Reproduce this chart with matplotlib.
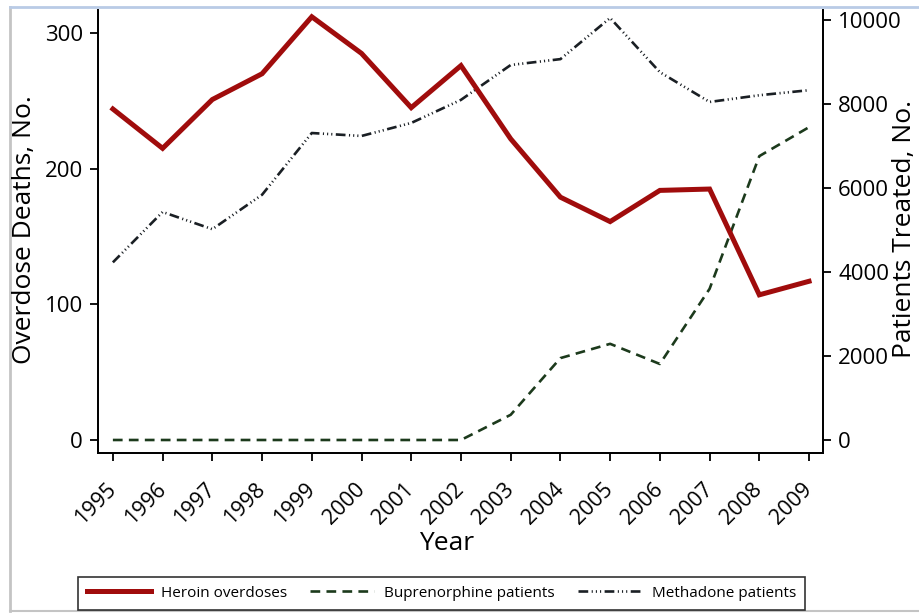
import matplotlib
matplotlib.use("Agg")
import matplotlib.pyplot as plt
from matplotlib.lines import Line2D

plt.rcParams["font.family"] = ["Open Sans", "DejaVu Sans"]
plt.rcParams["lines.scale_dashes"] = False

years = [1995, 1996, 1997, 1998, 1999, 2000, 2001, 2002,
         2003, 2004, 2005, 2006, 2007, 2008, 2009]
heroin_overdoses = [244, 215, 251, 270, 312, 285, 245, 276,
                    222, 179, 161, 184, 185, 107, 117]
buprenorphine_patients = [0, 0, 0, 0, 0, 0, 0, 0,
                          600, 1950, 2290, 1810, 3600, 6760, 7450]
methadone_patients = [4230, 5430, 5020, 5840, 7310, 7240, 7550, 8100,
                      8930, 9070, 10050, 8760, 8050, 8210, 8330]

fig = plt.figure(figsize=(9.19, 6.13), dpi=100)
ax = fig.add_axes([0.1066, 0.261, 0.7889, 0.7227])
ax2 = ax.twinx()

heroin_color = "#a00c0c"
bup_color = "#1c3a1c"
meth_color = "#1a1f24"

h1, = ax.plot(years, heroin_overdoses, color=heroin_color, lw=3.6,
              solid_joinstyle="miter", zorder=3, label="Heroin overdoses")
h2, = ax2.plot(years, buprenorphine_patients, color=bup_color, lw=1.9,
               linestyle=(0, (7, 4.5)), label="Buprenorphine patients")
h3, = ax2.plot(years, methadone_patients, color=meth_color, lw=1.9,
               linestyle=(0, (7, 2.5, 0.8, 2.2, 0.8, 2.2, 0.8, 2.5)),
               label="Methadone patients")
ax.set_zorder(ax2.get_zorder() + 1)
ax.patch.set_visible(False)

ax.set_xlim(1994.7, 2009.28)
ax.set_ylim(-9.6, 317)
ax2.set_ylim(-310, 10240)

ax.set_xticks(years)
ax.set_xticklabels([str(y) for y in years], rotation=45, ha="right",
                   va="center", rotation_mode="anchor")
ax.set_yticks([0, 100, 200, 300])
ax2.set_yticks([0, 2000, 4000, 6000, 8000, 10000])
ax2.set_yticklabels(["0", "2000", "4000", "6000", "8000", "10000"])

for a in (ax, ax2):
    a.spines["top"].set_visible(False)
    for s in a.spines.values():
        s.set_linewidth(1.3)
    a.tick_params(direction="out", length=6, width=1.3, labelsize=16, pad=5)
ax.tick_params(axis="x", labelsize=15.5, pad=18)

# axis titles placed where the reference has them
fig.text(25 / 919, 1 - 230 / 613, "Overdose Deaths, No.", rotation=90,
         ha="center", va="center", fontsize=19)
fig.text(905 / 919, 1 - 229 / 613, "Patients Treated, No.", rotation=90,
         ha="center", va="center", fontsize=19)
fig.text(447 / 919, 1 - 543 / 613, "Year", ha="center", va="center",
         fontsize=19)

leg = fig.legend(handles=[h1, h2, h3], loc="lower left",
                 bbox_to_anchor=(78 / 919, 3 / 613),
                 ncol=3, fontsize=11, frameon=True, fancybox=False,
                 handlelength=4.2, borderaxespad=0, borderpad=0.6,
                 columnspacing=1.5, handletextpad=0.65)
leg.get_frame().set_edgecolor("black")
leg.get_frame().set_linewidth(1.2)

# screenshot frame
fig.add_artist(Line2D([10 / 919, 10 / 919], [2 / 613, 606 / 613],
                      transform=fig.transFigure, color="#c4c4c4", lw=2))
fig.add_artist(Line2D([10 / 919, 1], [606 / 613, 606 / 613],
                      transform=fig.transFigure, color="#b9cbe6", lw=2))
fig.add_artist(Line2D([10 / 919, 1], [2 / 613, 2 / 613],
                      transform=fig.transFigure, color="#c4c4c4", lw=1.5))

fig.savefig("out.png", dpi=100)
